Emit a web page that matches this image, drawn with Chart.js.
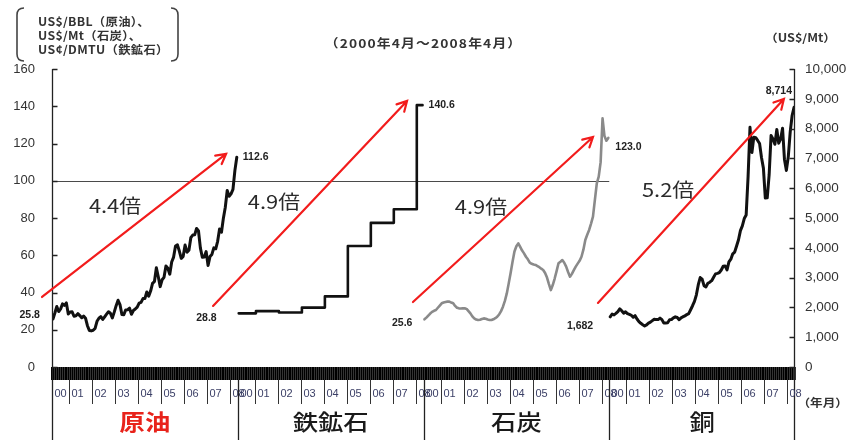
<!DOCTYPE html>
<html lang="ja">
<head>
<meta charset="utf-8">
<title>資源価格の推移</title>
<script src="https://cdn.jsdelivr.net/npm/chart.js@4.4.1/dist/chart.umd.min.js"></script>
<style>
html,body{margin:0;padding:0;background:#fff;}
canvas{display:block;}
</style>
</head>
<body>
<canvas id="chart" width="868" height="440"></canvas>
<script>
// 月次の並び: 2000年4月～2008年4月 (97か月)
const months = [];
for (let y = 2000; y <= 2008; y++) {
  for (let m = 1; m <= 12; m++) {
    if ((y === 2000 && m < 4) || (y === 2008 && m > 4)) continue;
    months.push(y + '/' + m);
  }
}
const yearLabels = ['00', '01', '02', '03', '04', '05', '06', '07', '08'];
const panelNames = ['原油', '鉄鉱石', '石炭', '銅'];
const leftTicks = [0, 20, 40, 60, 80, 100, 120, 140, 160];
const rightTicks = [0, 1000, 2000, 3000, 4000, 5000, 6000, 7000, 8000, 9000, 10000];

// 原油 (US$/BBL)
const oilPrice = [
  25.8, 29.01, 32.50, 29.77, 31.22, 33.88, 33.11, 34.42, 28.44,
  29.59, 29.61, 27.25, 27.49, 28.63, 27.60, 26.43, 27.37, 26.20, 22.17, 19.64, 19.39,
  19.72, 20.72, 24.53, 26.18, 27.04, 25.52, 26.97, 28.39, 29.66, 28.84, 26.35, 29.46,
  32.95, 35.83, 33.51, 28.17, 28.11, 30.66, 30.75, 31.57, 28.31, 30.34, 31.11, 32.13,
  34.31, 34.69, 36.74, 36.75, 40.28, 38.03, 40.78, 44.90, 45.94, 53.28, 48.47, 43.15,
  46.84, 48.15, 54.19, 52.98, 49.83, 56.35, 59.00, 64.99, 65.59, 62.26, 58.32, 59.41,
  65.49, 61.63, 62.69, 69.44, 70.84, 70.95, 74.41, 73.04, 63.80, 58.89, 59.08, 61.96,
  54.51, 59.28, 60.44, 63.98, 63.46, 67.49, 74.12, 72.36, 79.92, 85.80, 94.77, 91.69,
  92.97, 95.39, 105.45, 112.6
];

// 鉄鉱石 (US¢/DMTU): 価格改定月と改定後価格
const ironChangeMonth = ['2000/4', '2001/1', '2002/1', '2003/1', '2004/1', '2005/1', '2006/1', '2007/1', '2008/1', '2008/4'];
const ironPrice = [28.8, 30.0, 29.3, 31.9, 37.9, 65.0, 77.4, 84.7, 140.6, 140.6];

// 石炭 (US$/Mt)
const coalPrice = [
  25.6, 26.5, 27.6, 28.7, 29.6, 30.2, 30.6, 31.8, 33.0,
  34.2, 34.6, 34.9, 35.1, 35.1, 34.6, 34.2, 32.8, 31.8, 31.5, 31.4, 31.5,
  31.5, 31.2, 30.0, 28.8, 27.2, 26.1, 25.5, 25.2, 25.4, 25.8, 26.1, 25.9,
  25.5, 25.2, 25.2, 25.6, 26.2, 27.0, 28.2, 30.0, 32.4, 35.5, 39.5, 44.9,
  50.5, 56.5, 62.0, 64.8, 66.4, 64.5, 62.5, 61.0, 59.2, 57.8, 56.0, 55.4,
  55.0, 54.8, 54.2, 53.6, 52.8, 52.1, 50.5, 48.0, 44.5, 41.3, 44.0, 47.5,
  51.5, 55.7, 56.5, 57.4, 56.0, 53.9, 51.0, 48.5, 50.0, 52.0, 53.9, 55.5,
  57.0, 59.2, 63.0, 68.2, 71.0, 73.6, 77.0, 80.7, 89.7, 98.6, 102.2, 110.0,
  133.5, 124.0, 121.5, 123.0
];

// 銅 (US$/Mt)
const copperPrice = [
  1682, 1778, 1749, 1798, 1857, 1950, 1888, 1806, 1853,
  1792, 1768, 1736, 1670, 1723, 1610, 1525, 1465, 1420, 1379, 1411, 1472,
  1505, 1555, 1604, 1590, 1590, 1643, 1590, 1476, 1479, 1487, 1587, 1595,
  1648, 1683, 1662, 1588, 1649, 1686, 1713, 1760, 1792, 1922, 2056, 2201,
  2423, 2761, 3001, 2948, 2730, 2688, 2808, 2846, 2897, 3012, 3125, 3143,
  3170, 3254, 3380, 3392, 3258, 3527, 3617, 3798, 3857, 4060, 4269, 4577,
  4734, 4982, 5103, 6388, 8045, 7198, 7712, 7695, 7602, 7500, 7029, 6674,
  5669, 5676, 6452, 7766, 7654, 7475, 7970, 7510, 7652, 8011, 6967, 6597,
  7061, 7888, 8439, 8714
];

// 上昇倍率
const ratioLabels = ['4.4倍', '4.9倍', '4.9倍', '5.2倍'];

const SPAN = months.length;          // 1パネルあたりの月数
const toPoints = (vals, panel) => vals.map((v, i) => ({ x: panel * SPAN + i, y: v }));
const ironPoints = ironChangeMonth.map((m, k) => ({ x: SPAN + months.indexOf(m), y: ironPrice[k] }));

// 矢印 (月位置, 左軸の値) と倍率文字の位置
const arrowGeom = [
  { from: [-5.7, 37.6], to: [90.4, 114.4], text: [32.4, 86.4] },
  { from: [83.6, 32.8], to: [184.9, 142.8], text: [115.4, 88.6] },
  { from: [188.0, 34.9], to: [282.0, 123.5], text: [223.5, 85.9] },
  { from: [284.6, 34.4], to: [381.7, 143.9], text: [321.2, 95.0] }
];

const fmt1 = v => v.toFixed(1);
const fmtC = v => v.toLocaleString('en-US');

const JP = '"Noto Sans CJK JP", "Noto Sans", sans-serif';
const LAT = '"Liberation Sans", Arial, sans-serif';

function drawText(ctx, text, x, y, font, color, align, sx, spacing) {
  ctx.save();
  ctx.font = font;
  ctx.fillStyle = color;
  ctx.textBaseline = 'middle';
  ctx.letterSpacing = spacing || '0px';
  const w = ctx.measureText(text).width * (sx || 1);
  let left = x;
  if (align === 'center') left = x - w / 2;
  else if (align === 'right') left = x - w;
  ctx.translate(left, y);
  ctx.scale(sx || 1, 1);
  ctx.textAlign = 'left';
  ctx.fillText(text, 0, 0);
  ctx.restore();
}

function bracket(ctx, x, top, bottom, dir) {
  // dir = 1: 左括弧, -1: 右括弧
  ctx.beginPath();
  ctx.moveTo(x + dir * 7, top);
  ctx.quadraticCurveTo(x, top, x, top + 7);
  ctx.lineTo(x, bottom - 7);
  ctx.quadraticCurveTo(x, bottom, x + dir * 7, bottom);
  ctx.stroke();
}

const decor = {
  id: 'decor',
  beforeDatasetsDraw(chart) {
    const { ctx, scales: { x, y } } = chart;
    // 100 の基準線 (原油・鉄鉱石・石炭)
    ctx.save();
    ctx.strokeStyle = '#4a4a4a';
    ctx.lineWidth = 1;
    const yy = Math.round(y.getPixelForValue(100)) + 0.5;
    ctx.beginPath();
    ctx.moveTo(x.getPixelForValue(-0.5), yy);
    ctx.lineTo(x.getPixelForValue(3 * SPAN - 0.5), yy);
    ctx.stroke();
    ctx.restore();
  },
  afterDraw(chart) {
    const { ctx, chartArea: ca, scales: { x, y, y2 } } = chart;
    const H = chart.height;
    ctx.save();

    // 縦軸線と内向きの目盛
    ctx.strokeStyle = '#222';
    ctx.lineWidth = 1.3;
    const lx = Math.round(ca.left) + 0.5, rx = Math.round(ca.right) - 0.5;
    ctx.beginPath();
    ctx.moveTo(lx, ca.top); ctx.lineTo(lx, H);
    ctx.moveTo(rx, ca.top); ctx.lineTo(rx, H);
    leftTicks.forEach(v => {
      const p = Math.round(y.getPixelForValue(v)) + 0.5;
      ctx.moveTo(lx, p); ctx.lineTo(lx + 5, p);
    });
    rightTicks.forEach(v => {
      const p = Math.round(y2.getPixelForValue(v)) + 0.5;
      ctx.moveTo(rx, p); ctx.lineTo(rx - 5, p);
    });
    ctx.stroke();

    // 年の区切りと年ラベル
    const bandBottom = ca.bottom + 13;
    ctx.lineWidth = 1;
    ctx.strokeStyle = '#333';
    for (let p = 0; p < panelNames.length; p++) {
      let yi = 0;
      months.forEach((m, i) => {
        const isStart = i === 0 || m.endsWith('/1');
        if (!isStart) return;
        const px = Math.round(x.getPixelForValue(p * SPAN + i - 0.5)) + 0.5;
        if (i > 0) {
          ctx.beginPath();
          ctx.moveTo(px, bandBottom);
          ctx.lineTo(px, bandBottom + 24);
          ctx.stroke();
        }
        drawText(ctx, yearLabels[yi], px + 2, bandBottom + 14, '10px ' + LAT, '#3b3f66', 'left', 1.1);
        yi++;
      });
    }

    // パネルの区切り
    ctx.lineWidth = 1.3;
    ctx.strokeStyle = '#222';
    for (let p = 1; p < panelNames.length; p++) {
      const px = Math.round(x.getPixelForValue(p * SPAN - 0.5)) + 0.5;
      ctx.beginPath();
      ctx.moveTo(px, bandBottom);
      ctx.lineTo(px, H);
      ctx.stroke();
    }

    // 品目名
    panelNames.forEach((name, p) => {
      const cx = (x.getPixelForValue(p * SPAN - 0.5) + x.getPixelForValue((p + 1) * SPAN - 0.5)) / 2;
      const red = p === 0;
      drawText(ctx, name, cx, 422, (red ? 'bold ' : '500 ') + '22px ' + JP, red ? '#e8231b' : '#1a1a1a', 'center', 1.15);
    });

    // 上昇を示す赤矢印
    ctx.strokeStyle = '#f21c1c';
    ctx.lineWidth = 2.2;
    ctx.lineCap = 'round';
    arrowGeom.forEach((a, k) => {
      const x0 = x.getPixelForValue(a.from[0]), y0 = y.getPixelForValue(a.from[1]);
      const x1 = x.getPixelForValue(a.to[0]), y1 = y.getPixelForValue(a.to[1]);
      ctx.beginPath();
      ctx.moveTo(x0, y0); ctx.lineTo(x1, y1);
      const ang = Math.atan2(y1 - y0, x1 - x0), L = 11, s = 0.5;
      ctx.moveTo(x1 - L * Math.cos(ang - s), y1 - L * Math.sin(ang - s));
      ctx.lineTo(x1, y1);
      ctx.lineTo(x1 - L * Math.cos(ang + s), y1 - L * Math.sin(ang + s));
      ctx.stroke();
      drawText(ctx, ratioLabels[k],
        x.getPixelForValue(a.text[0]), y.getPixelForValue(a.text[1]),
        '19px ' + JP, '#2a2a2a', 'center', 1.15);
    });

    // 始点・終点の値
    const vfont = 'bold 10.5px ' + LAT, vcol = '#222';
    const lbl = (panel, i, val, axis, text, align, dx, dy) => {
      const px = x.getPixelForValue(panel * SPAN + i);
      const py = axis.getPixelForValue(val);
      drawText(ctx, text, px + dx, py + dy, vfont, vcol, align);
    };
    const last = SPAN - 1;
    lbl(0, 0, oilPrice[0], y, fmt1(oilPrice[0]), 'right', -13, -4);
    lbl(0, last, oilPrice[last], y, fmt1(oilPrice[last]), 'left', 6, 0);
    lbl(1, 0, ironPrice[0], y, fmt1(ironPrice[0]), 'right', -22, 5);
    lbl(1, last, ironPrice[ironPrice.length - 1], y, fmt1(ironPrice[ironPrice.length - 1]), 'left', 6, 0);
    lbl(2, 0, coalPrice[0], y, fmt1(coalPrice[0]), 'right', -12, 4);
    lbl(2, last, coalPrice[last], y, fmt1(coalPrice[last]), 'left', 7, 9);
    lbl(3, 0, copperPrice[0], y2, fmtC(copperPrice[0]), 'right', -17, 9);
    lbl(3, last, copperPrice[last], y2, fmtC(copperPrice[last]), 'right', -2, -16);

    // 単位表記
    ctx.strokeStyle = '#444';
    ctx.lineWidth = 1.6;
    ctx.lineCap = 'butt';
    bracket(ctx, 17, 8, 61, 1);
    bracket(ctx, 178, 8, 61, -1);
    const uf = 'bold 11.5px ' + JP;
    drawText(ctx, 'US$/BBL（原油）、', 38, 21.5, uf, '#333', 'left', 1.07, '0.3px');
    drawText(ctx, 'US$/Mt（石炭）、', 38, 35.5, uf, '#333', 'left', 1.07, '0.3px');
    drawText(ctx, 'US¢/DMTU（鉄鉱石）', 38, 49.5, uf, '#333', 'left', 1.07, '0.3px');
    drawText(ctx, '（US$/Mt）', 836, 38, 'bold 11px ' + JP, '#333', 'right', 1.15, '0px');
    drawText(ctx, '（年月）', 848, 403, 'bold 11px ' + JP, '#333', 'right', 1.15, '0px');
    drawText(ctx, '（2000年4月～2008年4月）', (ca.left + ca.right) / 2, 43, 'bold 12px ' + JP, '#333', 'center', 1.15, '1px');

    ctx.restore();
  }
};

const lineStyle = (color, width) => ({
  borderColor: color, borderWidth: width, pointRadius: 0, tension: 0,
  borderJoinStyle: 'round', borderCapStyle: 'round', fill: false
});

new Chart(document.getElementById('chart'), {
  type: 'line',
  data: {
    datasets: [
      { label: '原油', data: toPoints(oilPrice, 0), yAxisID: 'y', ...lineStyle('#111', 3) },
      { label: '鉄鉱石', data: ironPoints, yAxisID: 'y', stepped: 'before', ...lineStyle('#111', 2.6) },
      { label: '石炭', data: toPoints(coalPrice, 2), yAxisID: 'y', ...lineStyle('#8a8a8a', 2.6) },
      { label: '銅', data: toPoints(copperPrice, 3), yAxisID: 'y2', ...lineStyle('#111', 3) }
    ]
  },
  options: {
    responsive: false,
    devicePixelRatio: 1,
    animation: false,
    events: [],
    layout: { padding: { top: 69, left: 0, right: 0, bottom: 0 } },
    plugins: { legend: { display: false }, tooltip: { enabled: false }, title: { display: false } },
    scales: {
      x: {
        type: 'linear',
        min: -0.5,
        max: panelNames.length * SPAN - 0.5,
        afterBuildTicks: s => {
          const t = [];
          for (let k = 0; k <= panelNames.length * SPAN; k++) t.push({ value: k - 0.5 });
          s.ticks = t;
        },
        afterFit: s => { s.height = 73; },
        ticks: { display: false },
        border: { display: false },
        grid: { drawOnChartArea: false, drawTicks: true, tickLength: 13, color: '#000', lineWidth: 1.8 }
      },
      y: {
        position: 'left',
        min: 0, max: 160,
        afterBuildTicks: s => { s.ticks = leftTicks.map(v => ({ value: v })); },
        afterFit: s => { s.width = 52; },
        border: { display: false },
        grid: { display: false, drawTicks: false },
        ticks: { padding: 17, color: '#333', font: { family: LAT, size: 13 } }
      },
      y2: {
        position: 'right',
        min: 0, max: 10000,
        afterBuildTicks: s => { s.ticks = rightTicks.map(v => ({ value: v })); },
        afterFit: s => { s.width = 73; },
        border: { display: false },
        grid: { display: false, drawTicks: false },
        ticks: { padding: 10, color: '#333', font: { family: LAT, size: 13.5 }, callback: v => fmtC(v) }
      }
    }
  },
  plugins: [decor]
});
</script>
</body>
</html>
